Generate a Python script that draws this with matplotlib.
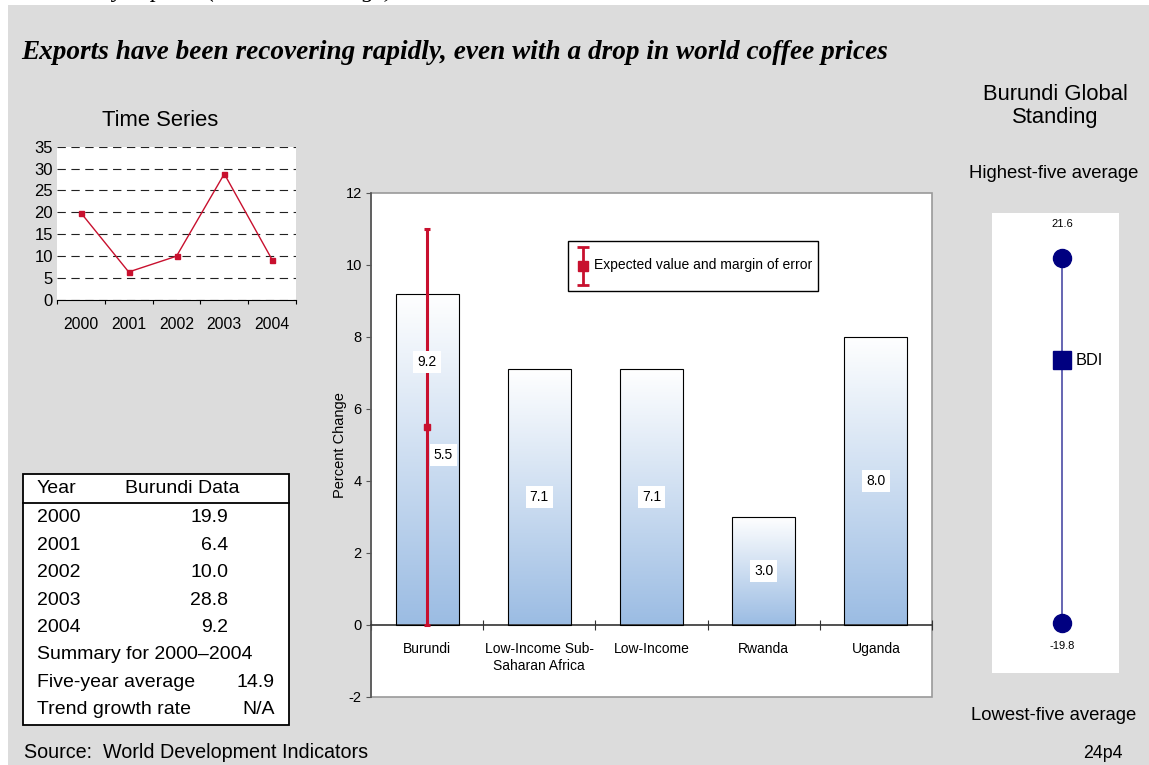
import numpy as np
import matplotlib
matplotlib.use('Agg')
import matplotlib.pyplot as plt
from matplotlib.patches import Rectangle
from matplotlib.colors import LinearSegmentedColormap

plt.rcParams['font.family'] = ['Liberation Sans', 'DejaVu Sans']
plt.rcParams['axes.unicode_minus'] = False

SERIF = ['Liberation Serif', 'DejaVu Serif']
RED = '#c8102e'
NAVY = '#000080'
SMALL = 10  # chart labels inside the bar panel

# export growth, Burundi
years = ['2000', '2001', '2002', '2003', '2004']
burundi_growth = [19.9, 6.4, 10.0, 28.8, 9.2]
five_year_avg = 14.9
trend_growth = 'N/A'

# comparison groups
groups = ['Burundi', 'Low-Income Sub-\nSaharan Africa', 'Low-Income', 'Rwanda', 'Uganda']
group_growth = [9.2, 7.1, 7.1, 3.0, 8.0]
expected_value = 5.5
margin_of_error = 5.5
legend_label = 'Expected value and margin of error'

# global standing
highest_five = 21.6
lowest_five = -19.8
bdi_value = 10.0

W, H = 1149, 765
fig = plt.figure(figsize=(W / 100, H / 100), dpi=100)


def box(x0, y0, x1, y1):
    # pixel rectangle (top-left origin) -> figure fraction
    return [x0 / W, 1 - y1 / H, (x1 - x0) / W, (y1 - y0) / H]


def pixel_axes(z):
    a = fig.add_axes([0, 0, 1, 1], zorder=z)
    a.set_xlim(0, W)
    a.set_ylim(H, 0)
    a.axis('off')
    return a


# background layer
bg = pixel_axes(0)
bg.text(12, -3, 'Commodity exports (annual % change)', family=SERIF,
        style='italic', fontsize=17.5, va='baseline', zorder=0)
bg.add_patch(Rectangle((8, 5), W - 8, H - 5, facecolor='#dcdcdc',
                       edgecolor='none', zorder=1))
bg.text(21, 52, 'Exports have been recovering rapidly, even with a drop in world coffee prices',
        family=SERIF, style='italic', fontweight='bold', fontsize=19.6,
        va='center', zorder=2)
bg.text(160, 120, 'Time Series', fontsize=15.8, ha='center', va='center', zorder=2)

# data table
bg.add_patch(Rectangle((23, 474), 266, 251, facecolor='white',
                       edgecolor='black', lw=1.3, zorder=2))
bg.plot([23, 289], [503, 503], color='black', lw=1.3, zorder=3)
tfs = 14
bg.text(37, 488, 'Year', fontsize=tfs, va='center', zorder=3)
bg.text(125, 488, 'Burundi Data', fontsize=tfs, va='center', zorder=3)
row_y = 518
step = 27.4
for yr, val in zip(years, burundi_growth):
    bg.text(37, row_y, yr, fontsize=tfs, va='center', zorder=3)
    bg.text(228, row_y, f'{val:.1f}', fontsize=tfs, va='center', ha='right', zorder=3)
    row_y += step
bg.text(37, row_y, f'Summary for {years[0]}\u2013{years[-1]}', fontsize=tfs, va='center', zorder=3)
row_y += step
bg.text(37, row_y, 'Five-year average', fontsize=tfs, va='center', zorder=3)
bg.text(275, row_y, f'{five_year_avg:.1f}', fontsize=tfs, va='center', ha='right', zorder=3)
row_y += step
bg.text(37, row_y, 'Trend growth rate', fontsize=tfs, va='center', zorder=3)
bg.text(275, row_y, trend_growth, fontsize=tfs, va='center', ha='right', zorder=3)

bg.text(24, 753, 'Source:  World Development Indicators', fontsize=14.2, va='center', zorder=2)
bg.text(1123, 753, '24p4', fontsize=12.8, va='center', ha='right', zorder=2)
bg.text(1055, 106, 'Burundi Global\nStanding', fontsize=15.8, ha='center',
        va='center', linespacing=1.15, zorder=2)
bg.text(1054, 173, 'Highest-five average', fontsize=13.3, ha='center', va='center', zorder=2)
bg.text(1054, 716, 'Lowest-five average', fontsize=13.3, ha='center', va='center', zorder=2)

# ---- time series ----
ts = fig.add_axes(box(57, 146.7, 296, 300), zorder=1)
xi = np.arange(len(years))
ts.plot(xi, burundi_growth, color=RED, lw=1.0, marker='s', ms=3.6)
ts.set_xlim(-0.5, len(years) - 0.5)
ts.set_ylim(0, 35)
ts.set_yticks(range(0, 36, 5))
ts.yaxis.grid(True, color='#222', lw=0.8, ls=(0, (7.5, 5)))
ts.set_axisbelow(True)
ts.set_xticks(np.arange(-0.5, len(years)))
ts.set_xticklabels([])
ts.set_xticks(xi, minor=True)
ts.set_xticklabels(years, minor=True)
ts.tick_params(axis='y', length=0, pad=3, labelsize=12)
ts.tick_params(axis='x', which='major', length=3, direction='out', color='black')
ts.tick_params(axis='x', which='minor', length=0, pad=12, labelsize=11.3)
for s in ['left', 'top', 'right']:
    ts.spines[s].set_visible(False)
ts.spines['bottom'].set_color('black')

# ---- comparison bar chart ----
ax = fig.add_axes(box(371, 192.7, 932, 697), zorder=1)
pos = np.arange(len(groups))
bars = ax.bar(pos, group_growth, width=0.56, facecolor='none',
              edgecolor='black', lw=0.8, zorder=3)
grad = np.linspace(0, 1, 256).reshape(-1, 1)
cmap = LinearSegmentedColormap.from_list('barfill', ['#9bbce3', '#ffffff'])
for b in bars:
    ax.imshow(grad, cmap=cmap, origin='lower', aspect='auto', zorder=2,
              extent=[b.get_x(), b.get_x() + b.get_width(), 0, b.get_height()])
ax.set_xlim(-0.5, len(groups) - 0.5)
ax.set_ylim(-2, 12)

lbl = dict(boxstyle='square,pad=0.3', fc='white', ec='none')
for i, v in enumerate(group_growth):
    # Burundi's label sits above the error-bar marker
    ly = v / 2 if i else 7.3
    ax.text(pos[i], ly, f'{v:.1f}', fontsize=SMALL,
            ha='center', va='center', bbox=lbl, zorder=5)

ax.errorbar(pos[0], expected_value, yerr=margin_of_error, fmt='s',
            color=RED, ms=4, elinewidth=2.2, capsize=2.5, capthick=2.2, zorder=4)
ax.text(pos[0] + 0.145, expected_value - 0.78, f'{expected_value:.1f}',
        fontsize=SMALL, ha='center', va='center', bbox=lbl, zorder=5)

ax.spines[['top', 'right']].set_visible(False)
ax.spines['bottom'].set_position(('data', 0))
ax.spines['bottom'].set_color('#333')
ax.spines['bottom'].set_linewidth(1.2)
ax.spines['left'].set_color('#555')
ax.spines['left'].set_linewidth(1.2)
ax.patch.set_edgecolor('#999')
ax.patch.set_linewidth(1.2)

ax.set_yticks(range(-2, 13, 2))
ax.tick_params(axis='y', length=3.6, direction='out', color='#555', pad=3, labelsize=10.5)
ax.set_xticks(np.arange(-0.5, len(groups)))
ax.set_xticklabels([])
ax.set_xticks(pos, minor=True)
ax.set_xticklabels(groups, minor=True, fontsize=SMALL, linespacing=1.3)
ax.tick_params(axis='x', which='major', length=7, direction='inout', color='#333')
ax.tick_params(axis='x', which='minor', length=0, pad=12)
ax.set_ylabel('Percent Change', fontsize=10.5)
ax.yaxis.set_label_coords((347 - 371) / 561, 0.5)

# legend box for the error bar, drawn on top of the chart
ov = pixel_axes(3)
leg_text = ov.text(594, 265, legend_label, fontsize=SMALL, va='center', zorder=5)
fig.canvas.draw()
text_right = leg_text.get_window_extent().x1
ov.add_patch(Rectangle((568, 241), text_right + 6 - 568, 50, facecolor='white',
                       edgecolor='black', lw=1.0, zorder=4))
ov.errorbar(583, 266, yerr=19, fmt='s', color=RED, ms=6.5, elinewidth=2,
            capsize=4, capthick=2, zorder=5)

# ---- global standing ----
st = fig.add_axes(box(992, 213, 1119, 673), zorder=1)
ppu = 365 / (highest_five - lowest_five)
st.set_ylim(lowest_five - 50 / ppu, highest_five + 45 / ppu)
st.set_xlim(0, 1)
cx = 0.55
st.plot([cx, cx], [lowest_five, highest_five], color='#4b4ba5', lw=1.2, zorder=1)
st.plot([cx, cx], [highest_five, lowest_five], 'o', color=NAVY, ms=13, zorder=2)
st.plot(cx, bdi_value, 's', color=NAVY, ms=13, zorder=3)
st.annotate(f'{highest_five}', (cx, highest_five), xytext=(0, 24.5),
            textcoords='offset points', ha='center', va='center', fontsize=8)
st.annotate(f'{lowest_five}', (cx, lowest_five), xytext=(0, -16.5),
            textcoords='offset points', ha='center', va='center', fontsize=8)
st.annotate('BDI', (cx, bdi_value), xytext=(10, 0), textcoords='offset points',
            ha='left', va='center', fontsize=11.8)
st.set_xticks([])
st.set_yticks([])
for s in st.spines.values():
    s.set_visible(False)

fig.savefig('out.png', dpi=100)
